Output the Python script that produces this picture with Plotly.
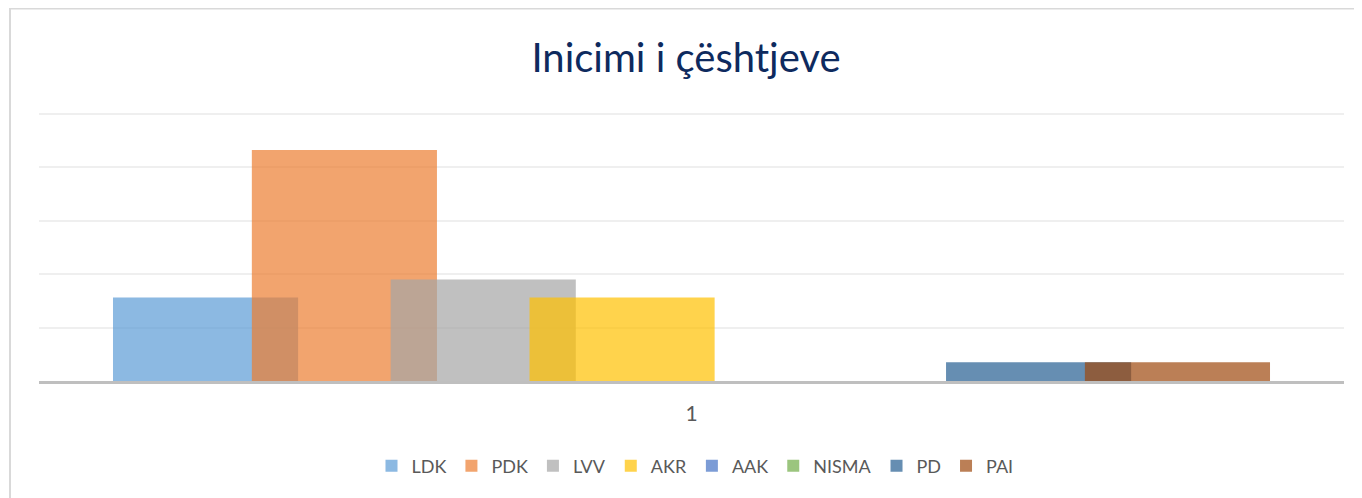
import plotly.graph_objects as go

categories = ["1"]
series_names = ["LDK", "PDK", "LVV", "AKR", "AAK", "NISMA", "PD", "PAI"]
series_values = [7.8, 21.6, 9.5, 7.8, 0, 0, 1.75, 1.75]
series_colors = ["#5B9BD5", "#ED7D31", "#A5A5A5", "#FFC000",
                 "#4472C4", "#70AD47", "#255E91", "#9E480E"]
title_text = "Inicimi i çështjeve"

W, H = 1362, 498
OFF = 8  # default page body margin
# target pixel positions in the screenshot
PLOT_L, PLOT_R, GRID_TOP, PLOT_B = 39, 1344, 114, 381
YMAX_GRID = 25
YTOP = 25.15

pw = PLOT_R - PLOT_L
ph_grid = PLOT_B - GRID_TOP
ph = ph_grid * YTOP / YMAX_GRID
ML = PLOT_L - OFF
MR = W - (PLOT_R - OFF)
MB = H - (PLOT_B - OFF)
MT = H - MB - ph
alpha = 0.7


def rgba(hx, a):
    hx = hx.lstrip("#")
    r, g, b = int(hx[0:2], 16), int(hx[2:4], 16), int(hx[4:6], 16)
    return f"rgba({r},{g},{b},{a})"


def px_to_paper_x(px):
    return (px - PLOT_L) / pw


def px_to_paper_y(py):
    return (PLOT_B - py) / ph


n = len(series_names)
group_frac = 0.8866
overlap = 0.25
bw = group_frac / (n - (n - 1) * overlap)
step = bw * (1 - overlap)

fig = go.Figure()
for i, (name, val, col) in enumerate(zip(series_names, series_values, series_colors)):
    fig.add_trace(go.Bar(
        x=categories, y=[val], name=name,
        marker=dict(color=rgba(col, alpha), line=dict(width=0)),
        width=bw, offset=-group_frac / 2 + i * step,
        hoverinfo="name+y",
    ))

fig.update_layout(
    width=W, height=H,
    margin=dict(l=ML, r=MR, t=MT, b=MB, autoexpand=False),
    barmode="overlay",
    paper_bgcolor="white", plot_bgcolor="white",
    font=dict(family="Lato, Calibri, sans-serif", color="#595959"),
    title=dict(text=title_text, font=dict(family="Lato, Calibri, sans-serif", size=40, color="#0E2A5E"),
               x=px_to_paper_x(686), xref="paper", xanchor="center",
               y=(H - (58 - OFF)) / H, yref="container", yanchor="middle"),
    xaxis=dict(type="category", range=[-0.5, 0.5], showgrid=False,
               showline=True, linecolor="#BFBFBF", linewidth=3,
               ticks="", ticklabelstandoff=12,
               tickfont=dict(size=21, color="#595959"), zeroline=False),
    yaxis=dict(range=[0, YTOP], dtick=5, showticklabels=False, showgrid=True,
               gridcolor="#EFEFEF", gridwidth=1.5, zeroline=False, showline=False, ticks=""),
    legend=dict(orientation="h", x=px_to_paper_x(695), xanchor="center",
                y=px_to_paper_y(466), yanchor="middle",
                font=dict(size=18, color="#595959"), traceorder="normal"),
    showlegend=True,
    shapes=[dict(type="rect", xref="paper", yref="paper",
                 x0=px_to_paper_x(10), x1=px_to_paper_x(W + 20),
                 y0=-0.8, y1=px_to_paper_y(9),
                 line=dict(color="#D9D9D9", width=2), fillcolor="rgba(0,0,0,0)",
                 layer="below")],
)

fig.write_html("out.html")
